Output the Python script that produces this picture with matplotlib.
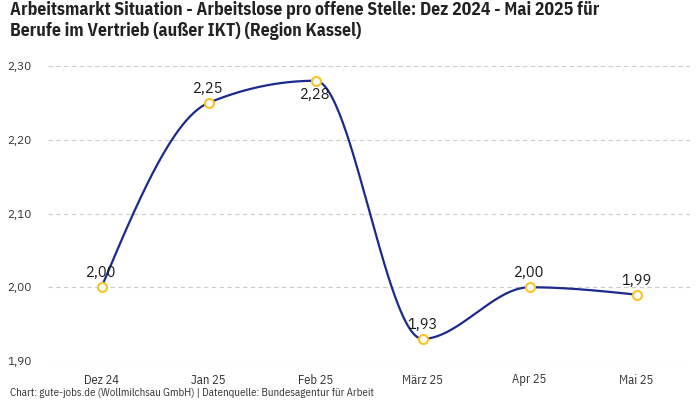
import numpy as np
import matplotlib
matplotlib.use("Agg")
import matplotlib.pyplot as plt

months = ["Dez 24", "Jan 25", "Feb 25", "März 25", "Apr 25", "Mai 25"]
values = [2.00, 2.25, 2.28, 1.93, 2.00, 1.99]
labels = ["2,00", "2,25", "2,28", "1,93", "2,00", "1,99"]
label_below = [False, False, True, False, False, False]
yticks = [1.90, 2.00, 2.10, 2.20, 2.30]
ytick_labels = ["1,90", "2,00", "2,10", "2,20", "2,30"]

cond = ["IBM Plex Sans Condensed", "DejaVu Sans"]
base = ["IBM Plex Sans", "DejaVu Sans"]

LINE = "#1c2a8c"
MARK = "#f7c325"

def monotone_x(xs, ys, n=60):
    xs = np.asarray(xs, float); ys = np.asarray(ys, float)
    m = len(xs)
    t = np.zeros(m)
    for i in range(1, m - 1):
        h0 = xs[i] - xs[i-1]; h1 = xs[i+1] - xs[i]
        s0 = (ys[i] - ys[i-1]) / h0; s1 = (ys[i+1] - ys[i]) / h1
        p = (s0 * h1 + s1 * h0) / (h0 + h1)
        t[i] = (np.sign(s0) + np.sign(s1)) * min(abs(s0), abs(s1), 0.5 * abs(p))
    h = xs[1] - xs[0]
    t[0] = (3 * (ys[1] - ys[0]) / h - t[1]) / 2
    h = xs[-1] - xs[-2]
    t[-1] = (3 * (ys[-1] - ys[-2]) / h - t[-2]) / 2
    px, py = [], []
    for i in range(m - 1):
        dx = (xs[i+1] - xs[i]) / 3
        P0 = np.array([xs[i], ys[i]])
        P1 = np.array([xs[i] + dx, ys[i] + dx * t[i]])
        P2 = np.array([xs[i+1] - dx, ys[i+1] - dx * t[i+1]])
        P3 = np.array([xs[i+1], ys[i+1]])
        u = np.linspace(0, 1, n)[:, None]
        B = (1-u)**3 * P0 + 3*(1-u)**2*u * P1 + 3*(1-u)*u**2 * P2 + u**3 * P3
        px.extend(B[:, 0]); py.extend(B[:, 1])
    return np.array(px), np.array(py)

fig = plt.figure(figsize=(7, 4), dpi=100)
ax = fig.add_axes([48/700, 1 - 361/400, (690-48)/700, (361-66)/400])

x = np.arange(len(months))
cx, cy = monotone_x(x, values)
ax.plot(cx, cy, color=LINE, lw=1.6, zorder=2)
ax.scatter(x, values, s=42, facecolor="white", edgecolor=MARK, linewidth=1.5, zorder=3)

for xi, v, lab, below in zip(x, values, labels, label_below):
    off = -5 if below else 5
    ax.annotate(lab, (xi, v), xytext=(0, off), textcoords="offset points",
                ha="center", va="top" if below else "bottom",
                fontsize=10.5, fontweight="medium", color="#1a1a1a", family=base)

ax.set_xlim(-0.5, 5.5)
ax.set_ylim(1.90, 2.30)
ax.set_xticks(x)
ax.set_xticklabels(months, family=cond, fontsize=9, color="#333333")
ax.set_yticks(yticks)
ax.set_yticklabels(ytick_labels, family=base, fontsize=8.5, color="#333333")
ax.tick_params(axis="both", length=0)
ax.tick_params(axis="x", pad=9)
ax.tick_params(axis="y", pad=12)
for s in ax.spines.values():
    s.set_visible(False)
ax.yaxis.grid(True, color="#cccccc", linestyle=(0, (4, 3)), lw=0.8)
ax.set_axisbelow(True)

fig.text(10/700, 1 - 1/400,
         "Arbeitsmarkt Situation - Arbeitslose pro offene Stelle: Dez 2024 - Mai 2025 für\nBerufe im Vertrieb (außer IKT) (Region Kassel)",
         family=cond, fontweight="bold", fontsize=12.8, color="#222222",
         va="top", ha="left", linespacing=1.25)
fig.text(10/700, 1 - 393/400,
         "Chart: gute-jobs.de (Wollmilchsau GmbH) | Datenquelle: Bundesagentur für Arbeit",
         family=cond, fontsize=7.8, color="#333333", va="center", ha="left")

fig.savefig("out.png", dpi=100)
